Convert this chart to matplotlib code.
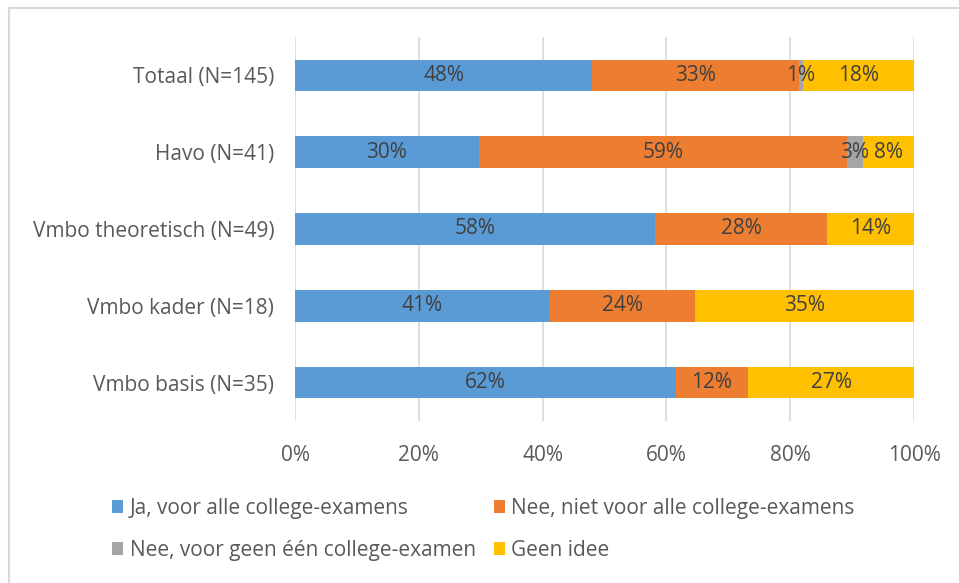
import numpy as np
import matplotlib.pyplot as plt
from matplotlib.lines import Line2D
from matplotlib.patches import Patch

plt.rcParams['font.family'] = ['Open Sans', 'DejaVu Sans']

categories = ["Totaal (N=145)", "Havo (N=41)", "Vmbo theoretisch (N=49)",
              "Vmbo kader (N=18)", "Vmbo basis (N=35)"]
series_names = ["Ja, voor alle college-examens",
                "Nee, niet voor alle college-examens",
                "Nee, voor geen één college-examen",
                "Geen idee"]
ja = [48, 29.7, 58.2, 41.2, 61.5]
nee_niet = [33.4, 59.4, 27.8, 23.5, 11.7]
nee_geen = [0.6, 2.7, 0, 0, 0]
geen_idee = [18.0, 8.2, 14.0, 35.3, 26.8]
colors = ["#5B9BD5", "#ED7D31", "#A5A5A5", "#FFC000"]

series = [ja, nee_niet, nee_geen, geen_idee]
fs = 15

fig = plt.figure(figsize=(9.59, 5.83), dpi=100)
ax = fig.add_axes([295 / 959, 1 - 421 / 583, (914 - 295) / 959, (421 - 37) / 583])

y = np.arange(len(categories))
left = np.zeros(len(categories))
for vals, col, name in zip(series, colors, series_names):
    vals = np.array(vals, dtype=float)
    ax.barh(y, vals, left=left, height=0.41, color=col, label=name, zorder=3)
    for yi, l, v in zip(y, left, vals):
        if v > 0:
            ax.text(l + v / 2, yi, f"{v:.0f}%", ha="center", va="center",
                    fontsize=fs, color="#404040", zorder=4)
    left += vals

ax.set_xlim(0, 100)
ax.set_ylim(len(categories) - 0.5, -0.5)
ax.set_yticks(y)
ax.set_yticklabels(categories)
ax.set_xticks(np.arange(0, 101, 20))
ax.set_xticklabels([f"{t}%" for t in range(0, 101, 20)])
ax.tick_params(axis="both", length=0, labelsize=fs, labelcolor="#595959")
ax.tick_params(axis="y", pad=15)
ax.tick_params(axis="x", pad=17)
ax.grid(axis="x", color="#D9D9D9", linewidth=1.2, zorder=0)
for s in ax.spines.values():
    s.set_visible(False)

handles = [Patch(facecolor=c, edgecolor="none") for c in colors]
order = [0, 2, 1, 3]
leg = fig.legend([handles[i] for i in order], [series_names[i] for i in order],
                 ncol=2, loc="upper left", bbox_to_anchor=(112 / 959, 1 - 498 / 583),
                 frameon=False, fontsize=fs, handlelength=0.55, handleheight=0.55,
                 handletextpad=0.3, columnspacing=0.85, labelspacing=1.0,
                 borderaxespad=0, borderpad=0)
for t in leg.get_texts():
    t.set_color("#595959")

# chart frame (top and left visible)
fig.add_artist(Line2D([9 / 959, 1], [1 - 8 / 583, 1 - 8 / 583], color="#D9D9D9", lw=1.5))
fig.add_artist(Line2D([9 / 959, 9 / 959], [0, 1 - 8 / 583], color="#D9D9D9", lw=1.5))

fig.savefig("out.png", dpi=100)
